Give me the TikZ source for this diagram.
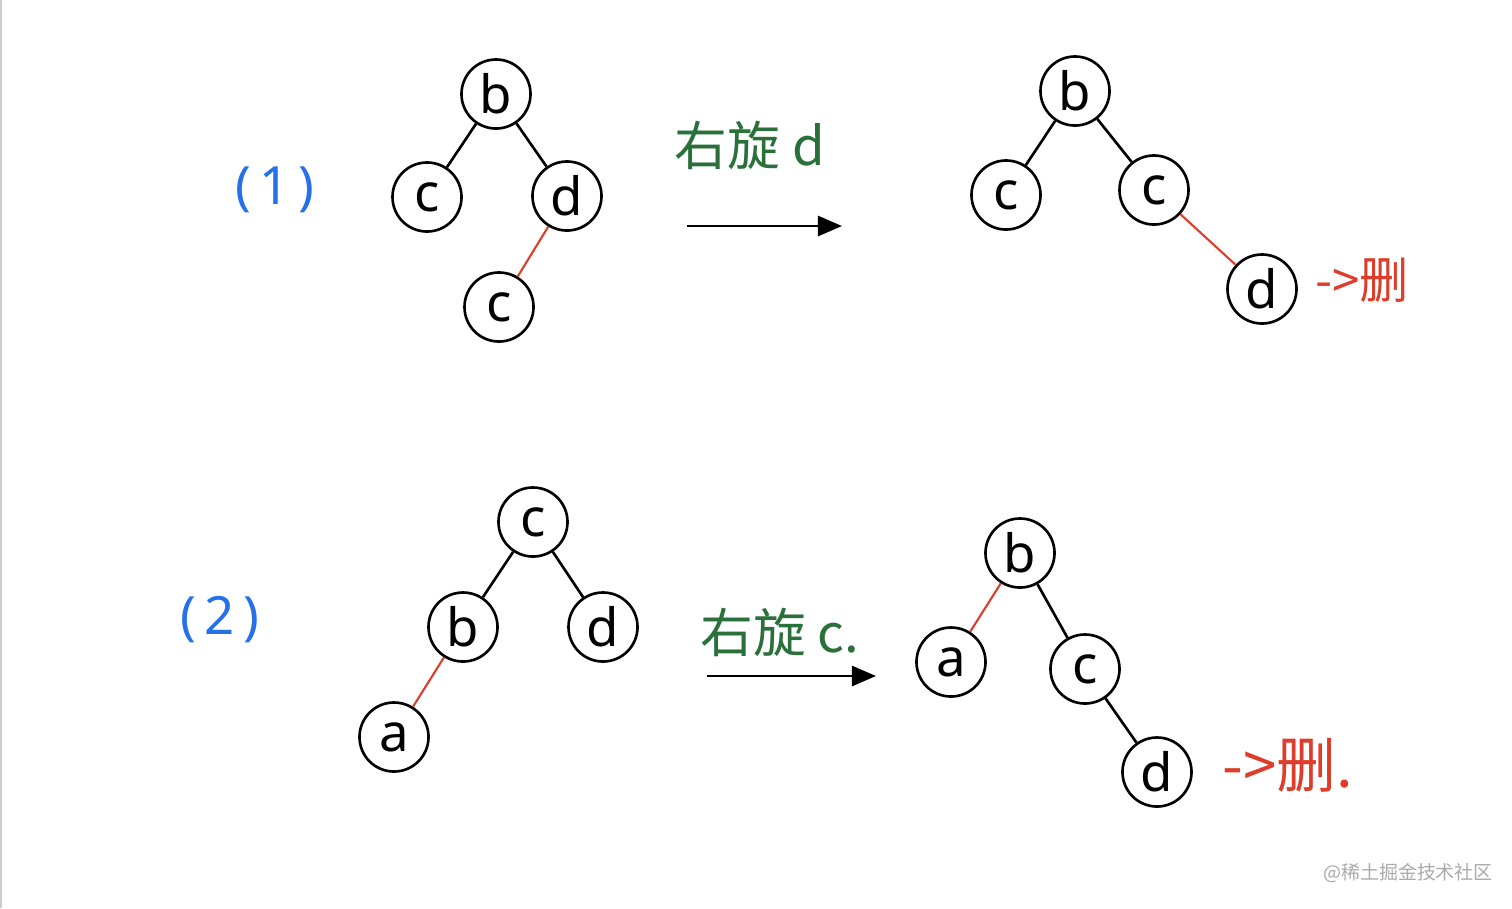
\documentclass[tikz,border=0pt]{standalone}
\usepackage{fontspec}
\setmainfont{Noto Sans}
\newfontfamily\cjk{Noto Sans CJK SC}
\usetikzlibrary{arrows.meta}
\definecolor{delred}{RGB}{221,62,44}
\definecolor{rotgreen}{RGB}{42,112,58}
\definecolor{numblue}{RGB}{38,112,232}
\definecolor{markgray}{RGB}{170,170,170}
\tikzset{
  vertex/.style={draw, circle, line width=0.75pt, minimum size=0.69cm, inner sep=0pt, font=\fontsize{15}{15}\selectfont},
  tedge/.style={line width=0.75pt},
  cutedge/.style={line width=0.6pt, delred},
  rotate arrow/.style={line width=0.75pt, -{Triangle[length=0.24cm, width=0.2cm]}},
  numlabel/.style={numblue, font=\fontsize{15}{15}\selectfont},
  rotlabel/.style={rotgreen, font=\cjk\fontsize{15}{15}\selectfont},
  dellabel/.style={delred, font=\cjk\fontsize{14}{14}\selectfont}
}
\begin{document}
\begin{tikzpicture}[x=0.01cm, y=-0.01cm]
\useasboundingbox[fill=white] (0,0) rectangle (1512,908);
\draw[markgray!60, line width=0.6pt] (1,0) -- (1,908);
%% Nodes
\node[numlabel](n1) at (275,190) {(\,1\,)};
\node[vertex](1b) at (496,94) {b};
\node[vertex](1c) at (427,197) {c};
\node[vertex](1d) at (567,196) {d};
\node[vertex](1e) at (499,307) {c};
\node[rotlabel](r1) at (750,145) {右旋 d};
\coordinate (a1s) at (687,226);
\coordinate (a1e) at (842,226);
\node[vertex](2b) at (1075,91) {b};
\node[vertex](2c) at (1006,195) {c};
\node[vertex](2e) at (1154,190) {c};
\node[vertex](2d) at (1262,289) {d};
\node[dellabel](x1) at (1362,280) {->删};
\node[numlabel](n2) at (220,620) {(\,2\,)};
\node[vertex](3c) at (533,522) {c};
\node[vertex](3b) at (463,627) {b};
\node[vertex](3d) at (603,627) {d};
\node[vertex](3a) at (394,737) {a};
\node[rotlabel](r2) at (780,632) {右旋 c.};
\coordinate (a2s) at (707,676);
\coordinate (a2e) at (876,676);
\node[vertex](4b) at (1020,553) {b};
\node[vertex](4a) at (951,662) {a};
\node[vertex](4c) at (1085,669) {c};
\node[vertex](4d) at (1157,772) {d};
\node[dellabel, font=\cjk\fontsize{17}{17}\selectfont](x2) at (1288,765) {->删.};
\node[markgray, font=\cjk\fontsize{5.4}{6}\selectfont](wm) at (1408,873) {@稀土掘金技术社区};
%% Lines
\draw[tedge] (1b) -- (1c);
\draw[tedge] (1b) -- (1d);
\draw[cutedge] (1d) -- (1e);
\draw[rotate arrow] (a1s) -- (a1e);
\draw[tedge] (2b) -- (2c);
\draw[tedge] (2b) -- (2e);
\draw[cutedge] (2e) -- (2d);
\draw[tedge] (3c) -- (3b);
\draw[tedge] (3c) -- (3d);
\draw[cutedge] (3b) -- (3a);
\draw[rotate arrow] (a2s) -- (a2e);
\draw[cutedge] (4b) -- (4a);
\draw[tedge] (4b) -- (4c);
\draw[tedge] (4c) -- (4d);
\end{tikzpicture}
\end{document}
